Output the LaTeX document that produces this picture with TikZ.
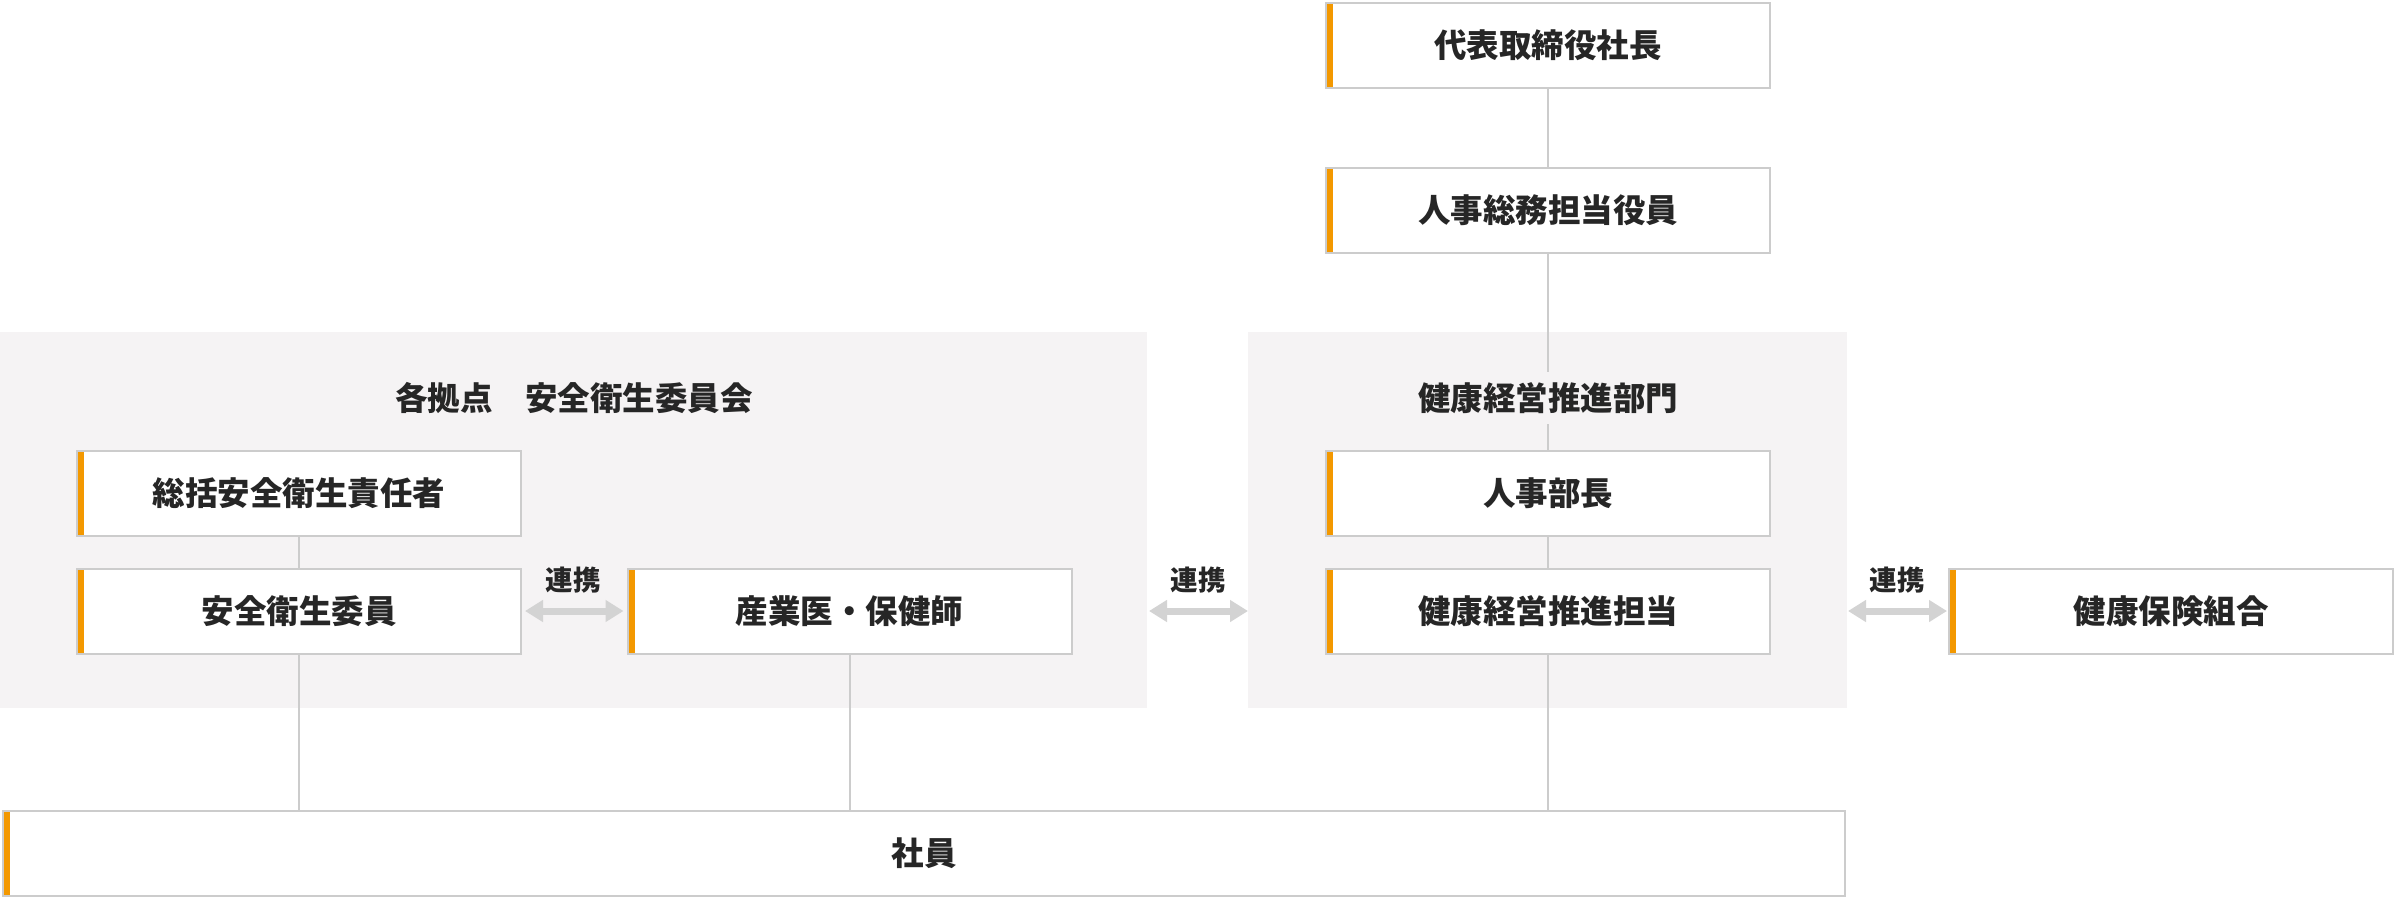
\documentclass[tikz,border=0pt]{standalone}
\usepackage{fontspec}
\setmainfont{Noto Sans CJK JP}
\usetikzlibrary{arrows.meta}
\definecolor{org}{HTML}{F39800}
\definecolor{bdr}{HTML}{CCCCCC}
\definecolor{pnl}{HTML}{F5F3F4}
\definecolor{txt}{HTML}{262626}
\definecolor{arw}{HTML}{D3D3D3}
\begin{document}
\begin{tikzpicture}[x=1pt,y=-1pt,
  box/.style={draw=bdr, line width=2pt, fill=white, minimum width=444pt, minimum height=85pt,
    inner sep=0pt, text=txt, font=\fontsize{32.5}{38}\selectfont\bfseries,
    path picture={\fill[org] (path picture bounding box.north west) rectangle ([xshift=7pt]path picture bounding box.south west);}},
  panel/.style={fill=pnl, draw=none, minimum height=376pt, inner sep=0pt, outer sep=0pt},
  ptitle/.style={inner sep=0pt, outer sep=0pt, minimum height=52pt, text=txt, font=\fontsize{32.5}{38}\selectfont\bfseries},
  lbl/.style={inner sep=0pt, text=txt, font=\fontsize{27.5}{32}\selectfont\bfseries},
  conn/.style={draw=bdr, line width=2pt},
  link/.style={draw=arw, line width=7pt, {Triangle[length=18pt,width=21pt]}-{Triangle[length=18pt,width=21pt]}}
]
\useasboundingbox (0,0) rectangle (2396,898);
% panels
\node[panel, minimum width=1147pt] (lp) at (573.5,520) {};
\node[panel, minimum width=599pt] (rp) at (1547.5,520) {};
\node[ptitle] (lt) at (574,398) {各拠点　安全衛生委員会};
\node[ptitle] (rt) at (1548,398) {健康経営推進部門};
% boxes
\node[box] (daihyo) at (1548,45) {代表取締役社長};
\node[box] (somu) at (1548,210.5) {人事総務担当役員};
\node[box] (bucho) at (1548,493) {人事部長};
\node[box] (tanto) at (1548,611) {健康経営推進担当};
\node[box] (kenpo) at (2171,611) {健康保険組合};
\node[box] (sokatsu) at (299,493) {総括安全衛生責任者};
\node[box] (iin) at (299,611) {安全衛生委員};
\node[box] (sangyoi) at (849.5,611) {産業医・保健師};
\node[box, minimum width=1842pt] (shain) at (924,853) {社員};
% connectors
\draw[conn] (daihyo.south) -- (somu.north);
\draw[conn] (somu.south) -- (rt.north);
\draw[conn] (rt.south) -- (bucho.north);
\draw[conn] (bucho.south) -- (tanto.north);
\draw[conn] (tanto.south) -- (tanto.south |- shain.north);
\draw[conn] (sokatsu.south) -- (iin.north);
\draw[conn] (iin.south) -- (iin.south |- shain.north);
\draw[conn] (sangyoi.south) -- (sangyoi.south |- shain.north);
% links
\draw[link] ([xshift=3pt]iin.east) -- ([xshift=-3pt]sangyoi.west);
\draw[link] ([xshift=2pt]lp.east |- tanto.center) -- (rp.west |- tanto.center);
\draw[link] ([xshift=1pt]rp.east |- tanto.center) -- ([xshift=-1pt]kenpo.west);
\node[lbl] (l1) at (573,580) {連携};
\node[lbl] (l2) at (1198,580) {連携};
\node[lbl] (l3) at (1897,580) {連携};
\end{tikzpicture}
\end{document}
